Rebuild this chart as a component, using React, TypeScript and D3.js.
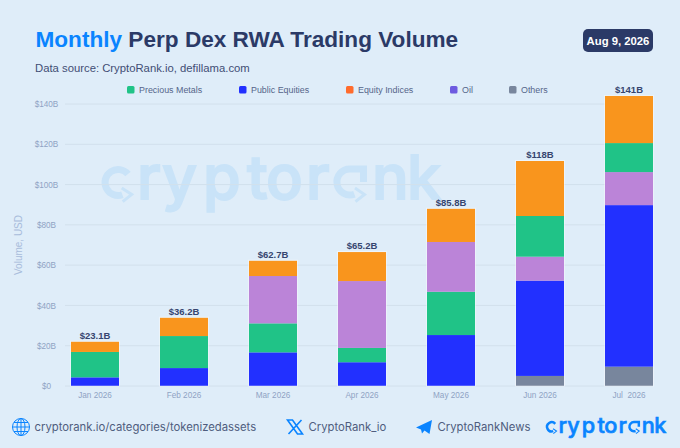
import React from 'react';
import * as d3 from 'd3';

const months = ['Jan 2026', 'Feb 2026', 'Mar 2026', 'Apr 2026', 'May 2026', 'Jun 2026', 'Jul  2026'];
const totalLabels = ['$23.1B', '$36.2B', '$62.7B', '$65.2B', '$85.8B', '$118B', '$141B'];
const yTicks = [0, 20, 40, 60, 80, 100, 120, 140];

// values in $B
const others = [0, 0, 0, 0, 0, 5, 9.6];
const publicEquities = [4.3, 8.9, 16.7, 11.8, 25.3, 47.3, 80.2];
const oil = [0, 0, 23.5, 33.2, 24.7, 11.9, 16.4];
const preciousMetals = [12.6, 15.9, 14.4, 7.1, 21.5, 20.2, 14.4];
const equityIndices = [5.1, 9.1, 7.6, 14.4, 16.5, 27.3, 23.4];

const seriesValues: Record<string, number[]> = { others, publicEquities, oil, preciousMetals, equityIndices };

const barColors: Record<string, string> = {
  others: '#78869d',
  publicEquities: '#2230ff',
  oil: '#bb84d8',
  preciousMetals: '#20c387',
  equityIndices: '#f9951d'
};

// stacking order changes from month to month in the original
const orderEarly = ['others', 'publicEquities', 'preciousMetals', 'oil', 'equityIndices'];
const orderLate = ['others', 'publicEquities', 'oil', 'preciousMetals', 'equityIndices'];
const monthOrders = [orderEarly, orderEarly, orderEarly, orderEarly, orderEarly, orderLate, orderLate];

const legendNames = ['Precious Metals', 'Public Equities', 'Equity Indices', 'Oil', 'Others'];
const legendColors = ['#20c387', '#2230ff', '#ff6b2c', '#6e5be0', '#78869d'];
const legendX = [127, 239, 346, 450, 509];

const WIDTH = 680;
const HEIGHT = 448;
const BG = '#dfedf9';
const NAVY = '#2b3a67';
const BLUE = '#0a84ff';
const FOOTER_TEXT = '#4f5d7e';

// wordmark: the round c and a with their arrows are drawn as paths, the rest is text
const Logo = ({ x, y, scale, color }: { x: number; y: number; scale: number; color: string }) => (
  <g transform={`translate(${x},${y}) scale(${scale})`}>
    <text
      x="0 35 60 101 145 164 204 231 270 305"
      y={0}
      fill={color}
      stroke={color}
      strokeWidth={1.8}
      fontFamily="Inter"
      fontWeight={500}
      fontSize={61}
    >
      <tspan fill="none" stroke="none">c</tspan>
      ryptor
      <tspan fill="none" stroke="none">a</tspan>
      nk
    </text>
    <g fill="none" stroke={color}>
      <path d="M26,-24.9A13,13 0 1 0 20.4,-4.3" strokeWidth={7} />
      <path d="M19.7,-11L29.7,-4.5L20.7,2.7" strokeWidth={3} />
      <path d="M261.5,-17V-30H248A13,13 0 1 0 252.4,-4.8" strokeWidth={7} />
      <path d="M253,-11L262.5,-4.5L253.5,2.7" strokeWidth={3} />
    </g>
  </g>
);

export default function App() {
  const svgRef = React.useRef<SVGSVGElement>(null);

  React.useEffect(() => {
    const svg = d3.select(svgRef.current);
    svg.select('.chart').remove();
    const chart = svg.append('g').attr('class', 'chart');

    const x = d3.scaleBand().domain(months).range([50.5, 673.5]).paddingInner(0.46).paddingOuter(0.23);
    const y = d3.scaleLinear().domain([0, 140]).range([386, 104]);

    const yAxis = d3
      .axisLeft(y)
      .tickValues(yTicks)
      .tickSize(0)
      .tickFormat((d: any) => (d === 0 ? '$0' : `$${d}B`));
    const yG = chart.append('g').attr('transform', 'translate(56,0)').call(yAxis);
    yG.select('.domain').remove();
    yG.selectAll('text')
      .attr('x', -9.5)
      .attr('text-anchor', 'middle')
      .attr('fill', '#8fa3c4')
      .attr('font-size', 8.2)
      .attr('font-family', 'Liberation Sans');

    chart
      .append('g')
      .selectAll('line')
      .data(yTicks)
      .join('line')
      .attr('x1', 65)
      .attr('x2', 653)
      .attr('y1', d => y(d))
      .attr('y2', d => y(d))
      .attr('stroke', '#d2e0ec')
      .attr('stroke-width', 1);

    const xAxis = d3.axisBottom(x).tickSize(0);
    const xG = chart.append('g').attr('transform', 'translate(0,386)').call(xAxis);
    xG.select('.domain').remove();
    xG.selectAll('text')
      .attr('y', 6)
      .attr('fill', '#8fa3c4')
      .attr('font-size', 8.2)
      .attr('font-family', 'Liberation Sans')
      .style('white-space', 'pre');

    const bars = chart.append('g');
    months.forEach((m, i) => {
      const order = monthOrders[i].filter(k => seriesValues[k][i] > 0);
      const ends = Array.from(d3.cumsum(order, k => seriesValues[k][i]));
      bars
        .append('g')
        .selectAll('rect')
        .data(order)
        .join('rect')
        .attr('x', x(m)!)
        .attr('width', x.bandwidth())
        .attr('y', (_, j) => y(ends[j]))
        .attr('height', k => y(0) - y(seriesValues[k][i]))
        .attr('fill', k => barColors[k]);
      bars
        .append('rect')
        .attr('x', x(m)! - 0.5)
        .attr('width', x.bandwidth() + 1)
        .attr('y', y(ends[ends.length - 1]) - 0.5)
        .attr('height', y(0) - y(ends[ends.length - 1]) + 0.5)
        .attr('fill', 'none')
        .attr('stroke', '#ffffff')
        .attr('stroke-opacity', 0.45)
        .attr('stroke-width', 1);
      bars
        .append('text')
        .attr('x', x(m)! + x.bandwidth() / 2)
        .attr('y', y(ends[ends.length - 1]) - 3)
        .attr('text-anchor', 'middle')
        .attr('fill', '#36456f')
        .attr('font-size', 9.5)
        .attr('font-weight', 700)
        .attr('font-family', 'Liberation Sans')
        .text(totalLabels[i]);
    });

    const legend = chart.append('g');
    legendNames.forEach((name, i) => {
      legend
        .append('rect')
        .attr('x', legendX[i])
        .attr('y', 86)
        .attr('width', 7.5)
        .attr('height', 7.5)
        .attr('rx', 1.5)
        .attr('fill', legendColors[i]);
      legend
        .append('text')
        .attr('x', legendX[i] + 12)
        .attr('y', 92.6)
        .attr('fill', '#55658a')
        .attr('font-size', 8.9)
        .attr('font-family', 'Liberation Sans')
        .text(name);
    });
  }, []);

  return (
    <svg
      ref={svgRef}
      width={WIDTH}
      height={HEIGHT}
      style={{ position: 'absolute', left: 0, top: 0, display: 'block' }}
    >
      <rect width={WIDTH} height={HEIGHT} fill={BG} />

      <text x={35.5} y={47} fontFamily="Liberation Sans" fontWeight={700} fontSize={22.6} fill={NAVY}>
        <tspan fill={BLUE}>Monthly</tspan> Perp Dex RWA Trading Volume
      </text>
      <text x={35} y={71.5} fontFamily="Liberation Sans" fontSize={11.3} fill="#3f4d75">
        Data source: CryptoRank.io, defillama.com
      </text>

      <rect x={583} y={29} width={70} height={23} rx={5} fill={NAVY} />
      <text x={618} y={45} textAnchor="middle" fontFamily="Liberation Sans" fontWeight={700} fontSize={11.3} fill="#fff">
        Aug 9, 2026
      </text>

      <text
        transform="translate(22,245) rotate(-90)"
        textAnchor="middle"
        fontFamily="Liberation Sans"
        fontSize={10}
        fill="#a8bcdb"
      >
        Volume, USD
      </text>

      <Logo x={102} y={199} scale={1} color="#c9e3f8" />

      {/* footer */}
      <g fill="none" stroke={BLUE} strokeWidth={1}>
        <circle cx={21} cy={427} r={8.5} />
        <ellipse cx={21} cy={427} rx={4} ry={8.5} />
        <path d="M21,418.5V435.5M12.5,427H29.5M14,422.5H28M14,431.5H28" />
      </g>
      <text x={34.5} y={431} fontFamily="Inter" fontSize={11.3} fill={FOOTER_TEXT}>
        cryptorank.io/categories/tokenizedassets
      </text>

      <path
        d="M287.5,420H292.5L302.5,434H297.5ZM301.5,420L288.5,434"
        fill="none"
        stroke={BLUE}
        strokeWidth={1.6}
      />
      <text x={308.5} y={431} fontFamily="Inter" fontSize={11.3} fill={FOOTER_TEXT}>
        CryptoRank_io
      </text>

      <path d="M416,427.5L432,420L429.5,434L424.5,430.5L422,433.5L421,429.5Z" fill={BLUE} />
      <text x={437.5} y={431} fontFamily="Inter" fontSize={11.3} fill={FOOTER_TEXT}>
        CryptoRankNews
      </text>

      <Logo x={546} y={432.7} scale={0.355} color={BLUE} />
    </svg>
  );
}
